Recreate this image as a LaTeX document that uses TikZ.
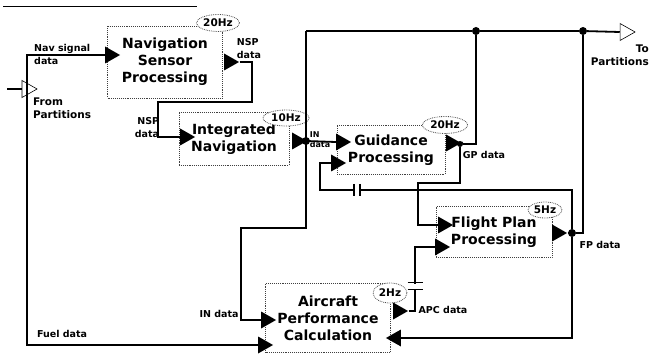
\documentclass[tikz,border=0pt]{standalone}
\usepackage{fontspec}
\setmainfont{DejaVu Sans}
\usetikzlibrary{shapes.geometric,positioning}

\begin{document}
\begin{tikzpicture}[x=1pt, y=-1pt,
    process/.style={rectangle, draw=black!75, densely dotted, line width=0.9pt, align=center,
                    font=\fontsize{14}{17}\selectfont\bfseries, inner sep=2pt},
    rate/.style={ellipse, draw=black!70, densely dotted, line width=0.8pt, fill=white, inner sep=0pt,
                 font=\fontsize{10.5}{11}\selectfont\bfseries},
    port/.style={isosceles triangle, isosceles triangle stretches, fill=black, inner sep=0pt,
                 minimum width=17pt, minimum height=15pt},
    extport/.style={port, fill=none, draw=black, line width=0.6pt},
    lbl/.style={font=\fontsize{9.5}{13}\selectfont\bfseries, inner sep=1pt, align=left},
    flow/.style={line width=1.8pt},
    junct/.style={circle, fill=black, inner sep=0pt, minimum size=8pt},
    capgap/.style={fill=white, inner sep=0pt},
    capbar/.style={line width=1.6pt}
]
    \useasboundingbox (0,0) rectangle (650,355);
    \draw[line width=1pt] (3,7) -- (197,7);

    % Processing functions
    \node[process, minimum width=115pt, minimum height=72pt] (nsp) at (165,62) {Navigation\\Sensor\\Processing};
    \node[process, minimum width=110pt, minimum height=53pt] (inav) at (234,139) {Integrated\\Navigation};
    \node[process, minimum width=108pt, minimum height=49pt] (guid) at (391,150) {Guidance\\Processing};
    \node[process, minimum width=116pt, minimum height=51pt] (fpp) at (494,232) {Flight Plan\\Processing};
    \node[process, minimum width=125pt, minimum height=69pt] (apc) at (328,318) {Aircraft\\Performance\\Calculation};

    % Rates
    \node[rate, minimum width=43pt, minimum height=17pt] (nsprate) at (218,23) {20Hz};
    \node[rate, minimum width=46pt, minimum height=16pt] (inavrate) at (286,118) {10Hz};
    \node[rate, minimum width=45pt, minimum height=17pt] (guidrate) at (445,125) {20Hz};
    \node[rate, minimum width=34pt, minimum height=16pt] (fpprate) at (545,210) {5Hz};
    \node[rate, minimum width=34pt, minimum height=20pt] (apcrate) at (390,293) {2Hz};

    % Ports
    \node[port] (nspin) at (110,55) {};
    \node[port] (nspout) at (229,62) {};
    \node[port] (inavin) at (185,137) {};
    \node[port] (inavout) at (297,141) {};
    \node[port] (guidin) at (341,142) {};
    \node[port] (guidfb) at (336,163) {};
    \node[port] (guidout) at (451,143) {};
    \node[port] (fppin) at (443,225) {};
    \node[port] (fppapc) at (440,247) {};
    \node[port] (fppout) at (557,233) {};
    \node[port] (apcin) at (266,320) {};
    \node[port] (apcfuel) at (263,345) {};
    \node[port, shape border rotate=180] (apcfp) at (396,338) {};
    \node[port] (apcout) at (398,311) {};
    \node[extport] (fromp) at (27,89) {};
    \node[extport] (top) at (625,32) {};

    % Junctions and bends
    \coordinate (navc) at (27,55);
    \coordinate (fromc) at (7,89);
    \coordinate (nspa) at (252,102);
    \coordinate (nspb) at (158,102);
    \node[junct] (injn) at (306,141) {};
    \coordinate (intop) at (306,31);
    \coordinate (ina) at (306,228);
    \coordinate (inb) at (241,228);
    \node[junct, minimum size=6pt] (gpjn) at (460,144) {};
    \node[junct] (gptop) at (476,31) {};
    \coordinate (gpa) at (460,183);
    \coordinate (gpb) at (418,183);
    \node[junct] (fpjn) at (572,233) {};
    \node[junct] (fptop) at (583,31) {};
    \coordinate (fpa) at (572,190);
    \coordinate (fpb) at (320,190);
    \coordinate (apca) at (415,311);
    \coordinate (apcb) at (415,247);

    % Data flows
    \draw[flow] (nspin.west) -- (navc) |- (apcfuel.west);
    \draw[line width=1.2pt] (fromc) -- (fromp.west);
    \draw[flow] (nspout.east) -| (nspa) -- (nspb) |- (inavin.west);
    \draw[flow] (inavout.east) -- (injn) -- (guidin.west);
    \draw[flow] (intop) -- (ina) -- (inb) |- (apcin.west);
    \draw[flow] (intop) -- (gptop) -- (fptop) -- (top.west);
    \draw[flow] (guidout.east) -- (gpjn) -| (gptop);
    \draw[flow] (gpjn) -- (gpa) -- (gpb) |- (fppin.west);
    \draw[flow] (fppout.east) -- (fpjn) -| (fptop);
    \draw[flow] (fpjn) -- (fpa) -- node[capgap, pos=0.853, minimum width=4pt, minimum height=3pt] (fpcap) {} (fpb) |- (guidfb.west);
    \draw[flow] (fpjn) |- (apcfp.east);
    \draw[flow] (apcout.east) -- (apca) -- node[capgap, pos=0.39, minimum width=3pt, minimum height=5pt] (apccap) {} (apcb) -- (fppapc.west);

    % Delays
    \draw[capbar] ([yshift=6pt]fpcap.west) -- ([yshift=-6pt]fpcap.west)
                  ([yshift=6pt]fpcap.east) -- ([yshift=-6pt]fpcap.east);
    \draw[capbar] ([xshift=-7.5pt]apccap.north) -- ([xshift=7.5pt]apccap.north)
                  ([xshift=-7.5pt]apccap.south) -- ([xshift=7.5pt]apccap.south);

    % Labels
    \node[lbl, anchor=west] (navlbl) at (33,54) {Nav signal\\data};
    \node[lbl] (nsplbl) at (249,49) {NSP\\data};
    \node[lbl, align=right] (nsplbl2) at (147,128) {NSP\\data};
    \node[lbl, font=\fontsize{8}{10}\selectfont\bfseries] (inlbl) at (320,140) {IN\\data};
    \node[lbl] (gplbl) at (484,155) {GP data};
    \node[lbl] (fplbl) at (600,245) {FP data};
    \node[lbl] (apclbl) at (443,310) {APC data};
    \node[lbl] (inlbl2) at (219,314) {IN data};
    \node[lbl] (fuellbl) at (62,334) {Fuel data};
    \node[lbl, anchor=north west, font=\fontsize{10.5}{13}\selectfont\bfseries] (fromlbl) at (32,97) {From\\Partitions};
    \node[lbl, anchor=north east, align=right, font=\fontsize{10.5}{13}\selectfont\bfseries] (tolbl) at (650,44) {To\\Partitions};
\end{tikzpicture}
\end{document}
